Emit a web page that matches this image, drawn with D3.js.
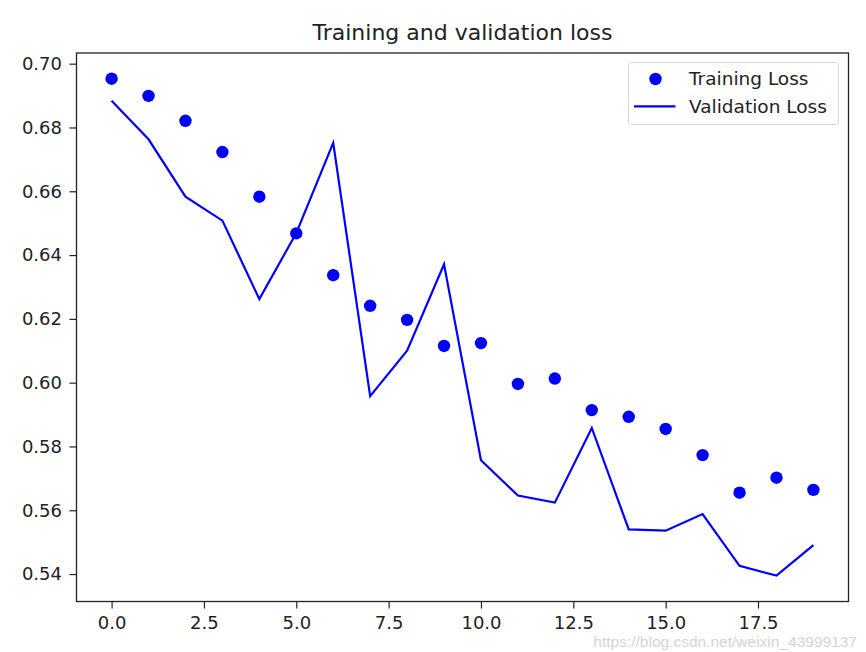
<!DOCTYPE html>
<html><head><meta charset="utf-8">
<script src="https://cdn.jsdelivr.net/npm/d3@7"></script>
<style>
html,body{margin:0;padding:0;background:#fff;}
text{font-family:"DejaVu Sans",sans-serif;}
</style></head>
<body>
<svg id="chart" width="866" height="652"></svg>
<script>
const epochs = [0,1,2,3,4,5,6,7,8,9,10,11,12,13,14,15,16,17,18,19];
const trainingLoss = [0.6953,0.6899,0.6821,0.6723,0.6583,0.6468,0.6337,0.6241,0.6197,0.6115,0.6124,0.5996,0.6013,0.5914,0.5893,0.5855,0.5773,0.5655,0.5702,0.5664];
const validationLoss = [0.6884,0.6763,0.6583,0.6508,0.6262,0.6469,0.6752,0.5958,0.6100,0.6371,0.5757,0.5646,0.5624,0.5858,0.5540,0.5536,0.5588,0.5426,0.5395,0.5491];
const xTicks = [0,2.5,5,7.5,10,12.5,15,17.5];
const yTicks = [0.54,0.56,0.58,0.60,0.62,0.64,0.66,0.68,0.70];
const title = "Training and validation loss";
const seriesNames = ["Training Loss","Validation Loss"];
const watermark = "https://blog.csdn.net/weixin_43999137";

const svg = d3.select("#chart");
const L = 76.5, R = 848.5, T = 53, B = 601.5;
const x = d3.scaleLinear().domain([-0.95, 19.95]).range([L, R]);
const y = d3.scaleLinear().domain([0.5314, 0.70335]).range([B, T]);
const blue = "#0000ff";
const ink = "#222";

// axes
const xAxis = d3.axisBottom(x).tickValues(xTicks).tickFormat(d3.format(".1f")).tickSize(7).tickPadding(8);
const yAxis = d3.axisLeft(y).tickValues(yTicks).tickFormat(d3.format(".2f")).tickSize(7).tickPadding(7.5);
const gx = svg.append("g").attr("transform", `translate(0,${B})`).call(xAxis);
const gy = svg.append("g").attr("transform", `translate(${L},0)`).call(yAxis);
[gx, gy].forEach(g => {
  g.select(".domain").remove();
  g.selectAll(".tick line").attr("stroke", ink).attr("stroke-width", 1.2);
  g.selectAll(".tick text").attr("fill", ink).style("font-size", "18px").style("font-family", "DejaVu Sans");
});

// frame
svg.append("rect").attr("x", L).attr("y", T).attr("width", R - L).attr("height", B - T)
  .attr("fill", "none").attr("stroke", ink).attr("stroke-width", 1.3);

// validation line
const line = d3.line().x((d, i) => x(epochs[i])).y(d => y(d));
svg.append("path").datum(validationLoss).attr("d", line)
  .attr("fill", "none").attr("stroke", blue).attr("stroke-width", 2.2).attr("stroke-linejoin", "miter");

// training dots
svg.append("g").selectAll("circle").data(trainingLoss).join("circle")
  .attr("cx", (d, i) => x(epochs[i])).attr("cy", d => y(d)).attr("r", 6.2).attr("fill", blue);

// title
svg.append("text").attr("x", (L + R) / 2).attr("y", 40).attr("text-anchor", "middle")
  .attr("fill", ink).style("font-size", "22px").text(title);

// legend
const lg = svg.append("g");
lg.append("rect").attr("x", 628.5).attr("y", 62.5).attr("width", 210).attr("height", 62)
  .attr("rx", 3).attr("fill", "rgba(255,255,255,0.8)").attr("stroke", "#d6d6d6").attr("stroke-width", 1);
lg.append("circle").attr("cx", 655.5).attr("cy", 79).attr("r", 6.2).attr("fill", blue);
lg.append("line").attr("x1", 634).attr("x2", 675.5).attr("y1", 106.3).attr("y2", 106.3)
  .attr("stroke", blue).attr("stroke-width", 2.2);
lg.selectAll("text").data(seriesNames).join("text")
  .attr("x", 689).attr("y", (d, i) => 85 + i * 27.5)
  .attr("fill", ink).style("font-size", "18.5px").text(d => d);

// watermark
svg.append("text").attr("x", 857).attr("y", 647).attr("text-anchor", "end")
  .attr("fill", "#d4d4d4").style("font-size", "15.5px").style("font-family", "Liberation Sans, Arial, sans-serif")
  .text(watermark);
</script>
</body></html>
